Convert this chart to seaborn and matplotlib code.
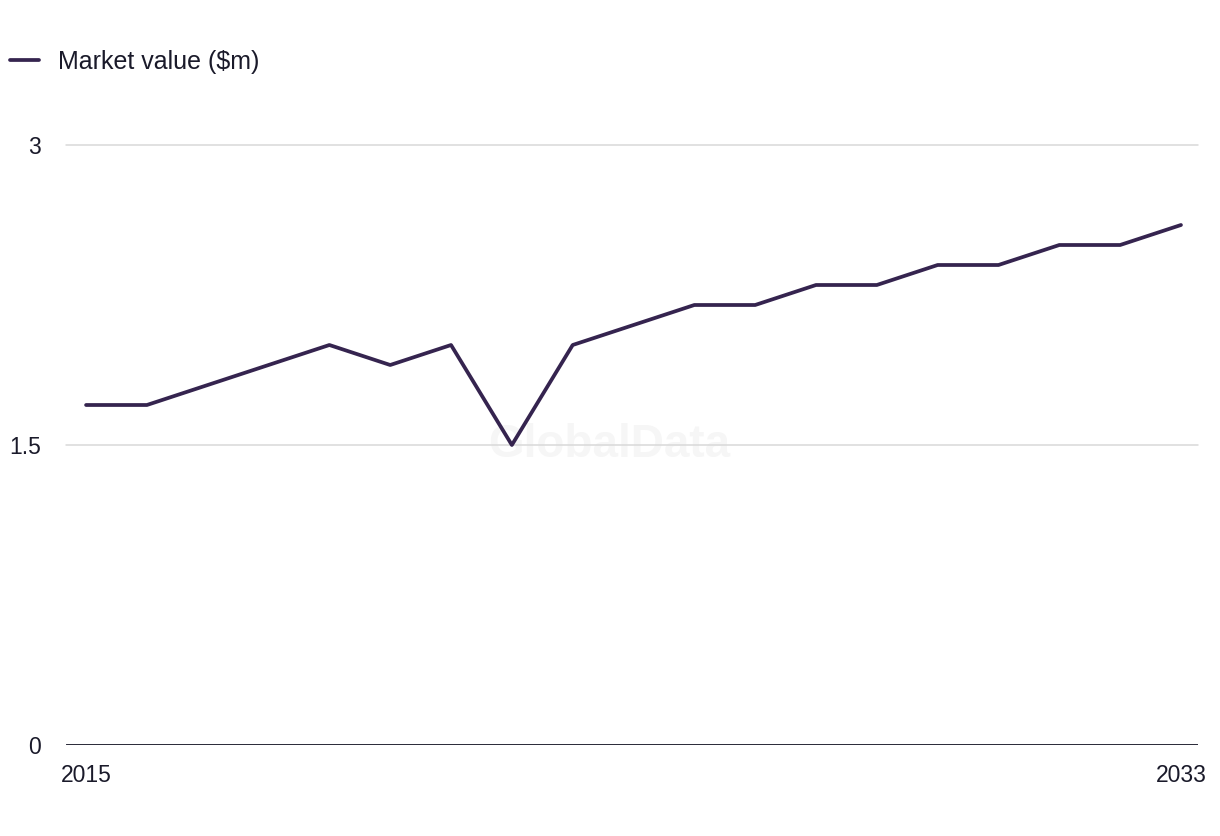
import pandas as pd
import seaborn as sns
import matplotlib.pyplot as plt

years = list(range(2015, 2034))
market_value = [1.7, 1.7, 1.8, 1.9, 2.0, 1.9, 2.0, 1.5, 2.0, 2.1, 2.2, 2.2, 2.3, 2.3, 2.4, 2.4, 2.5, 2.5, 2.6]
ytick_values = [0, 1.5, 3]
ytick_labels = ['0', '1.5', '3']
xtick_values = [2015, 2033]
series_name = 'Market value ($m)'

df = pd.DataFrame({'Year': years, series_name: market_value})

sns.set_style('white')
plt.rcParams['font.family'] = ['Liberation Sans', 'DejaVu Sans']

fig = plt.figure(figsize=(12.2, 8.36), dpi=100)
ax = fig.add_axes([66 / 1220, 1 - 745 / 836, (1198 - 66) / 1220, (745 - 145) / 836])

# watermark
ax.text(0.48, 0.5, 'GlobalData', transform=ax.transAxes, ha='center', va='center',
        fontsize=33, fontweight='bold', color='#f6f6f6', zorder=0)

sns.lineplot(data=df, x='Year', y=series_name, ax=ax, color='#35244f', linewidth=2.7,
             label=series_name, zorder=3)

ax.set_xlim(2014.67, 2033.28)
ax.set_ylim(0, 3)
ax.set_yticks(ytick_values)
ax.set_yticklabels(ytick_labels)
ax.set_xticks(xtick_values)
ax.set_xticklabels([str(x) for x in xtick_values])
ax.set_xlabel('')
ax.set_ylabel('')

for y in ytick_values[1:]:
    ax.axhline(y, color='#d9d9d9', linewidth=1.1, zorder=1, clip_on=False)
ax.axhline(0, color='#151525', linewidth=2.0, zorder=2)

for s in ax.spines.values():
    s.set_visible(False)
ax.tick_params(axis='both', length=0, labelsize=16.5, colors='#1a1a2a')
ax.tick_params(axis='y', pad=18)
ax.tick_params(axis='x', pad=14)

ax.get_legend().remove()
h, l = ax.get_legend_handles_labels()
fig.legend(h, l, loc='center left', bbox_to_anchor=(10 / 1220, 1 - 62 / 836), frameon=False,
           fontsize=18, handlelength=1.15, handletextpad=0.75, borderpad=0, borderaxespad=0,
           labelcolor='#1a1a2a')

fig.savefig('out.png', dpi=100)
